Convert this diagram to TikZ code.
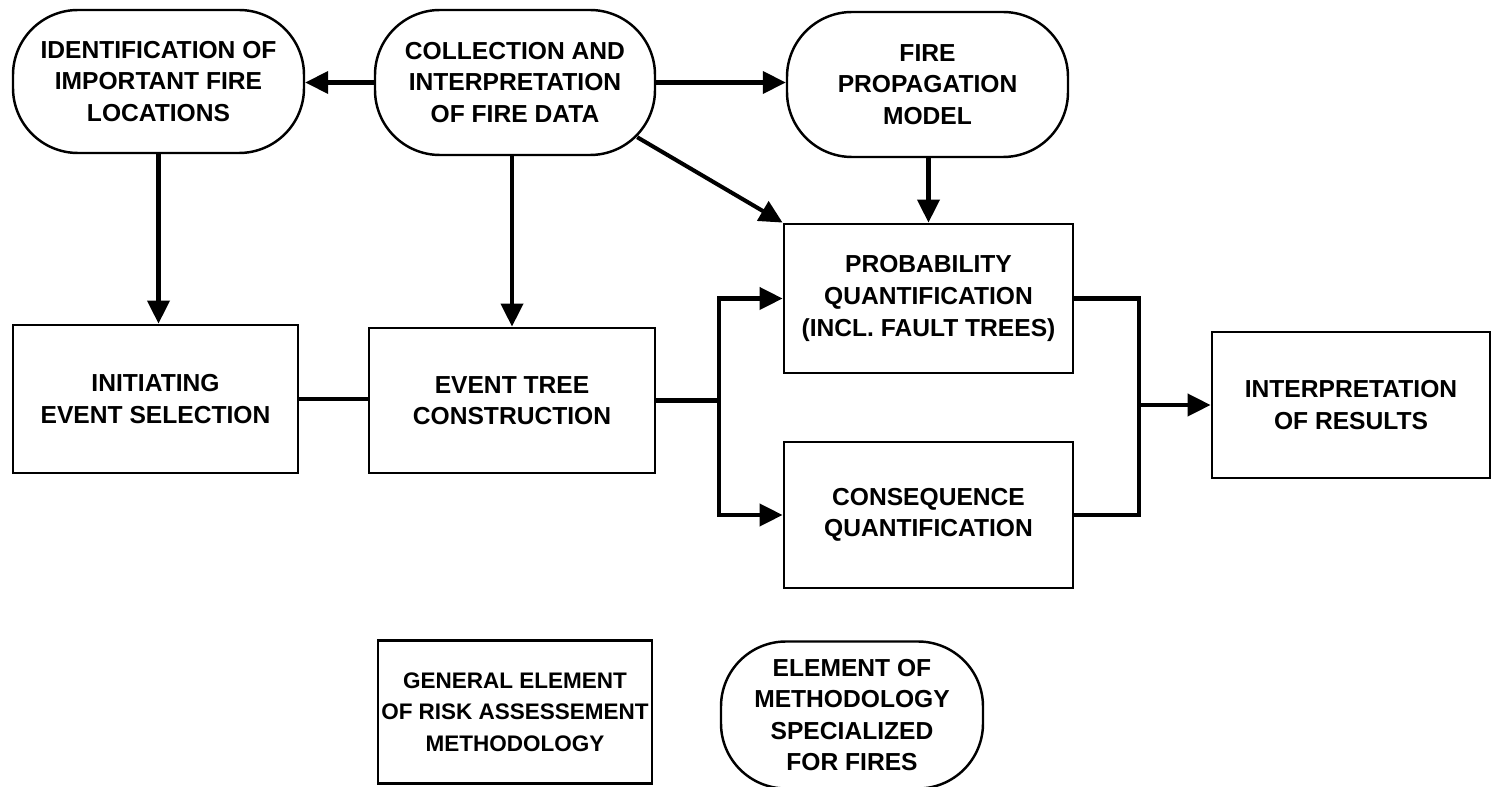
\documentclass[tikz,border=0pt]{standalone}
\usepackage{fontspec}
\setmainfont{Liberation Sans}
\usetikzlibrary{arrows.meta,calc}
\begin{document}
\begin{tikzpicture}[
  font=\fontsize{14}{18}\selectfont\bfseries,
  box/.style={draw, line width=1.6pt, align=center, inner sep=0pt},
  stad/.style={draw, line width=1.4pt, rounded corners=1.3cm, align=center, inner sep=0pt},
  conn/.style={line width=2.3pt},
  arr/.style={conn, -{Triangle[length=0.46cm,width=0.44cm]}},
]
\fill[white] (0,0) rectangle (29.92,-15.74);
\useasboundingbox (0,0) rectangle (29.92,-15.74);

% top row (fire-specific elements)
\node[stad, minimum width=5.82cm, minimum height=2.86cm] (ident) at (3.17,-1.63) {IDENTIFICATION OF\\IMPORTANT FIRE\\LOCATIONS};
\node[stad, minimum width=5.60cm, minimum height=2.90cm] (collect) at (10.30,-1.65) {COLLECTION AND\\INTERPRETATION\\OF FIRE DATA};
\node[stad, minimum width=5.62cm, minimum height=2.90cm] (fire) at (18.55,-1.69) {FIRE\\PROPAGATION\\MODEL};

% general elements
\node[box, minimum width=5.78cm, minimum height=2.98cm] (prob) at (18.57,-5.97) {PROBABILITY\\QUANTIFICATION\\(INCL. FAULT TREES)};
\node[box, minimum width=5.78cm, minimum height=2.92cm] (cons) at (18.57,-10.30) {CONSEQUENCE\\QUANTIFICATION};
\node[box, minimum width=5.70cm, minimum height=2.96cm] (init) at (3.11,-7.98) {INITIATING\\EVENT SELECTION};
\node[box, minimum width=5.72cm, minimum height=2.90cm] (event) at (10.24,-8.01) {EVENT TREE\\CONSTRUCTION};
\node[box, minimum width=5.56cm, minimum height=2.92cm] (interp) at (27.02,-8.10) {INTERPRETATION\\OF RESULTS};

% legend
\node[box, minimum width=5.48cm, minimum height=2.86cm, font=\fontsize{12.8}{18}\selectfont\bfseries] (legbox) at (10.30,-14.24) {GENERAL ELEMENT\\OF RISK ASSESSEMENT\\METHODOLOGY};
\node[stad, minimum width=5.24cm, minimum height=2.94cm] (legstad) at (17.04,-14.30) {ELEMENT OF\\METHODOLOGY\\SPECIALIZED\\FOR FIRES};

% connectors
\draw[arr] (collect.west) -- (collect.west -| ident.east);
\draw[arr] (collect.east) -- (collect.east -| fire.west);
\draw[arr] (ident.south) -- (ident.south |- init.north);
\draw[arr] (event.north |- collect.south) -- (event.north);
\draw[arr] (fire.south -| prob.north) -- (prob.north);
\draw[arr] ($(collect.south east)+(-0.38,0.38)$) -- (prob.north west);

\draw[conn] (init.east) -- (init.east -| event.west);
\coordinate (split) at ($(event.east)+(1.26,0)$);
\draw[conn] (event.east) -- (split);
\draw[arr] (split) |- (prob.west);
\draw[arr] (split) |- (cons.west);

\coordinate (merge) at ($(interp.west)+(-1.44,0)$);
\draw[conn] (prob.east) -| (merge) |- (cons.east);
\draw[arr] (merge) -- (interp.west);
\end{tikzpicture}
\end{document}
